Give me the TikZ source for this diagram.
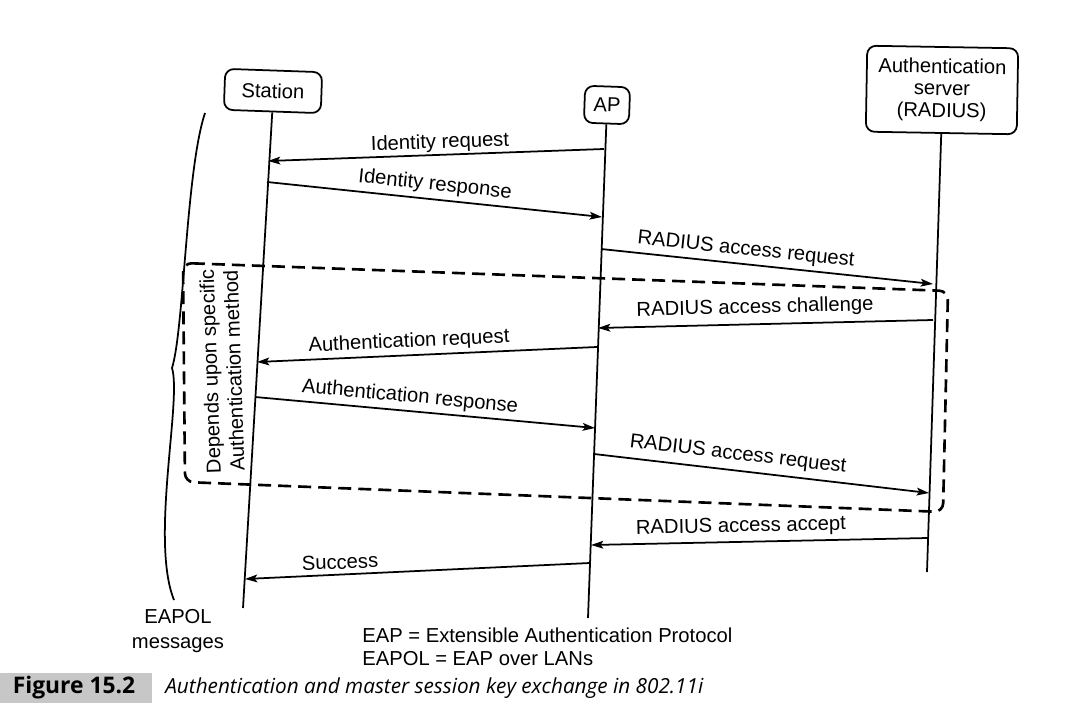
\documentclass[tikz,border=0pt]{standalone}
\usepackage{fontspec}
\setmainfont{Liberation Sans}
\newfontfamily\capfont{Open Sans}
\usetikzlibrary{arrows.meta}
\begin{document}
\begin{tikzpicture}[x=0.02cm,y=-0.02cm,
  lbl/.style={font=\fontsize{11.5}{13}\selectfont, inner sep=0pt},
  entity/.style={draw, line width=1pt, rounded corners=5pt, align=center, inner sep=2pt,
    font=\fontsize{11.5}{12.5}\selectfont},
  life/.style={line width=1pt},
  msg/.style={line width=1pt, -{Stealth[length=7pt,width=4.4pt,inset=1.5pt]}},
  dashbox/.style={line width=1.5pt, dash pattern=on 7.4pt off 4pt, rounded corners=5pt},
]
\useasboundingbox (0,0) rectangle (1073,726);
\fill[white] (0,0) rectangle (1073,726);

% entities
\node[entity, minimum width=1.94cm, minimum height=0.82cm, rotate=-2] (st) at (273,91) {Station};
\node[entity, minimum width=0.9cm, minimum height=0.74cm, rotate=-2] (ap) at (607,105) {AP};
\node[entity, minimum width=3.02cm, minimum height=1.72cm, rotate=-1] (as) at (942,90)
  {Authentication\\server\\(RADIUS)};

% lifeline ends
\coordinate (stE) at (243,608);
\coordinate (apE) at (588,618);
\coordinate (asE) at (927,572);
\draw[life] (st.south) -- (stE);
\draw[life] (ap.south) -- (apE);
\draw[life] (as.south) -- (asE);

% message end points
\coordinate (a1) at (604,149); \coordinate (s1) at (268,161);
\coordinate (s2) at (267,182); \coordinate (a2) at (602,217);
\coordinate (a3) at (601,249); \coordinate (v3) at (933,284);
\coordinate (v4) at (933,320); \coordinate (a4) at (598,328);
\coordinate (a5) at (597,347); \coordinate (s5) at (257,362);
\coordinate (s6) at (255,397); \coordinate (a6) at (595,428);
\coordinate (a7) at (594,454); \coordinate (v7) at (929,493);
\coordinate (v8) at (928,538); \coordinate (a8) at (591,545);
\coordinate (a9) at (590,563); \coordinate (s9) at (245,579);

\draw[msg] (a1) -- (s1);
\draw[msg] (s2) -- (a2);
\draw[msg] (a3) -- (v3);
\draw[msg] (v4) -- (a4);
\draw[msg] (a5) -- (s5);
\draw[msg] (s6) -- (a6);
\draw[msg] (a7) -- (v7);
\draw[msg] (v8) -- (a8);
\draw[msg] (a9) -- (s9);

% labels
\node[lbl, rotate=2]    (l1) at (440,143) {Identity request};
\node[lbl, rotate=-6]   (l2) at (435,185) {Identity response};
\node[lbl, rotate=-6]   (l3) at (746,250) {RADIUS access request};
\node[lbl, rotate=1.4]  (l4) at (755,308) {RADIUS access challenge};
\node[lbl, rotate=2.6]  (l5) at (409,342) {Authentication request};
\node[lbl, rotate=-5.3] (l6) at (410,397) {Authentication response};
\node[lbl, rotate=-6.7] (l7) at (738,455) {RADIUS access request};
\node[lbl, rotate=1.2]  (l8) at (741,527) {RADIUS access accept};
\node[lbl, rotate=2]    (l9) at (340,562) {Success};

% dashed region
\draw[dashbox] (183,263) -- (948,291) -- (943,512) -- (185,482) -- cycle;
\node[lbl, rotate=92, align=center, font=\fontsize{11.5}{13.6}\selectfont] (dep) at (222,371)
  {Depends upon specific\\Authentication method};

% brace
\draw[line width=1pt] (205,113) .. controls (186,170) and (184,330) .. (172,368)
  .. controls (182,400) and (150,540) .. (174,600);
\node[lbl, align=center] (eapol) at (178,631) {EAPOL\\[1pt]messages};

% legend
\node[lbl, anchor=west, align=left] (leg) at (362,647)
  {EAP = Extensible Authentication Protocol\\EAPOL = EAP over LANs};

% caption
\fill[black!22] (0,673) rectangle (152,703);
\node[inner sep=0pt, font=\capfont\bfseries\fontsize{13}{15}\selectfont] (fig) at (74,688) {Figure 15.2};
\node[inner sep=0pt, anchor=west, font=\capfont\itshape\fontsize{11.8}{14}\selectfont] (cap) at (165,688)
  {Authentication and master session key exchange in 802.11i};
\end{tikzpicture}
\end{document}
